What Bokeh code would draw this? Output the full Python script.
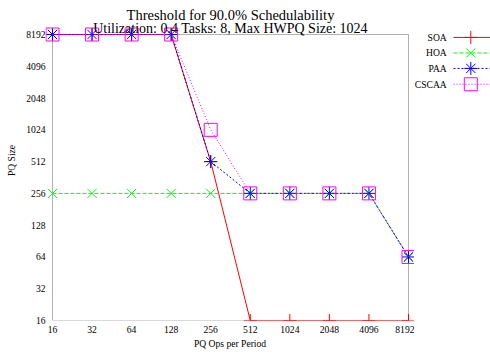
import math
from bokeh.plotting import figure
from bokeh.models import Range1d, FixedTicker, PrintfTickFormatter, BoxAnnotation, Label
from bokeh.core.properties import value
from bokeh.layouts import row
from bokeh.embed import file_html
from bokeh.resources import INLINE

# ---- data ----
ops = [16, 32, 64, 128, 256, 512, 1024, 2048, 4096, 8192]
soa = [8192, 8192, 8192, 8192, 512, 16, 16, 16, 16, 16]
hoa = [256, 256, 256, 256, 256, 256, 256, 256, 256, 64]
paa = [8192, 8192, 8192, 8192, 512, 256, 256, 256, 256, 64]
cscaa = [8192, 8192, 8192, 8192, 1024, 256, 256, 256, 256, 64]
x_ticks = [16, 32, 64, 128, 256, 512, 1024, 2048, 4096, 8192]
y_ticks = [16, 32, 64, 128, 256, 512, 1024, 2048, 4096, 8192]
series_names = ["SOA", "HOA", "PAA", "CSCAA"]
title_line1 = "Threshold for 90.0% Schedulability"
title_line2 = "Utilization: 0.4 Tasks: 8, Max HWPQ Size: 1024"
x_label = "PQ Ops per Period"
y_label = "PQ Size"

# ---- styles ----
FONT = "Liberation Serif"
SMALL = "9.6px"
styles = [
    dict(color="#ff0000", dash="solid", marker="cross", size=13),
    dict(color="#00ff00", dash="4 2", marker="x", size=13),
    dict(color="#0000ff", dash="2 2", marker="asterisk", size=13),
    dict(color="#ff00ff", dash="1 2", marker="square", size=13),
]
series_values = [soa, hoa, paa, cscaa]

# ---- layout (pixels) ----
W, H = 490, 358
BOX_L, BOX_T = 52, 34
BOX_W, BOX_H = 356, 286
E_L, E_R, E_T, E_B = 7, 6, BOX_T, 0
x_lo, x_hi = x_ticks[0], x_ticks[-1]
y_lo, y_hi = y_ticks[0], y_ticks[-1]
oct_x = math.log2(x_hi / x_lo)
oct_y = math.log2(y_hi / y_lo)
x_rng = Range1d(x_lo / 2 ** (E_L * oct_x / BOX_W), x_hi * 2 ** (E_R * oct_x / BOX_W))
y_rng = Range1d(y_lo / 2 ** (E_B * oct_y / BOX_H), y_hi * 2 ** (E_T * oct_y / BOX_H))

FRAME_W = BOX_W + E_L + E_R
FRAME_H = BOX_H + E_T + E_B
MB_L = BOX_L - E_L
MAIN_W = MB_L + FRAME_W

p = figure(frame_width=FRAME_W, frame_height=FRAME_H,
           min_border_left=MB_L, min_border_right=0, min_border_top=0,
           min_border_bottom=H - FRAME_H,
           x_axis_type="log", y_axis_type="log", x_range=x_rng, y_range=y_rng,
           output_backend="svg", toolbar_location=None)
p.outline_line_color = None
p.grid.grid_line_color = None
p.background_fill_color = "white"
p.border_fill_color = "white"

for ax, ticks in ((p.xaxis, x_ticks), (p.yaxis, y_ticks)):
    ax.ticker = FixedTicker(ticks=ticks)
    ax.formatter = PrintfTickFormatter(format="%d")
    ax.axis_line_color = None
    ax.major_tick_line_color = None
    ax.minor_tick_line_color = None
    ax.major_tick_out = 0
    ax.major_tick_in = 0
    ax.minor_tick_out = 0
    ax.minor_tick_in = 0
    ax.major_label_text_font = FONT
    ax.major_label_text_font_size = SMALL
    ax.major_label_text_color = "black"
    ax.axis_label_text_font = FONT
    ax.axis_label_text_font_size = SMALL
    ax.axis_label_text_font_style = "normal"
    ax.axis_label_text_color = "black"

p.xaxis.major_label_standoff = 5
p.yaxis.major_label_standoff = 0
p.xaxis.axis_label = x_label
p.xaxis.axis_label_standoff = 2
p.yaxis.axis_label = y_label
p.yaxis.axis_label_standoff = 6

box = BoxAnnotation(left=x_lo, right=x_hi, bottom=y_lo, top=y_hi,
                    fill_alpha=0, line_color="black", line_width=1, level="underlay")
p.add_layout(box)

for vals, st in zip(series_values, styles):
    p.line(ops, vals, line_color=st["color"], line_dash=st["dash"], line_width=1)
    if st["marker"] == "square":
        p.scatter(ops, vals, marker="square", size=st["size"], fill_color=None,
                  line_color=st["color"], line_width=1)
    else:
        p.scatter(ops, vals, marker=st["marker"], size=st["size"],
                  line_color=st["color"], line_width=1)

cx = math.sqrt(x_lo * x_hi)
p.add_layout(Label(x=cx, y=y_hi, y_offset=20, text=title_line1, text_align="center",
                   text_baseline="alphabetic", text_font=FONT, text_font_size="14.5px",
                   text_color="black"))
p.add_layout(Label(x=cx, y=y_hi, y_offset=6.5, text=title_line2, text_align="center",
                   text_baseline="alphabetic", text_font=FONT, text_font_size="14px",
                   text_color="black"))

# ---- legend (separate strip to the right) ----
LW = W - MAIN_W
lg = figure(width=LW, height=H, x_range=Range1d(0, LW), y_range=Range1d(H, 0),
            x_axis_type=None, y_axis_type=None, min_border=0,
            output_backend="svg", toolbar_location=None)
lg.outline_line_color = None
lg.grid.grid_line_color = None
LEG_ROWS = [41.3, 58.7, 76, 93.7]
LEG_TEXT_R = 446.3 - MAIN_W
LEG_X0, LEG_X1, LEG_XM = 453 - MAIN_W, LW, 470.3 - MAIN_W
for name, ry, st in zip(series_names, LEG_ROWS, styles):
    lg.text(x=[LEG_TEXT_R], y=[ry], text=[name], text_align="right", text_baseline="middle",
            text_font=value(FONT), text_font_size=SMALL, text_color="black")
    lg.line([LEG_X0, LEG_X1], [ry, ry], line_color=st["color"], line_dash=st["dash"], line_width=1)
    if st["marker"] == "square":
        lg.scatter([LEG_XM], [ry], marker="square", size=st["size"], fill_color=None,
                   line_color=st["color"], line_width=1)
    else:
        lg.scatter([LEG_XM], [ry], marker=st["marker"], size=st["size"],
                   line_color=st["color"], line_width=1)

layout = row(p, lg)
open("out.html", "w").write(file_html(layout, INLINE))
